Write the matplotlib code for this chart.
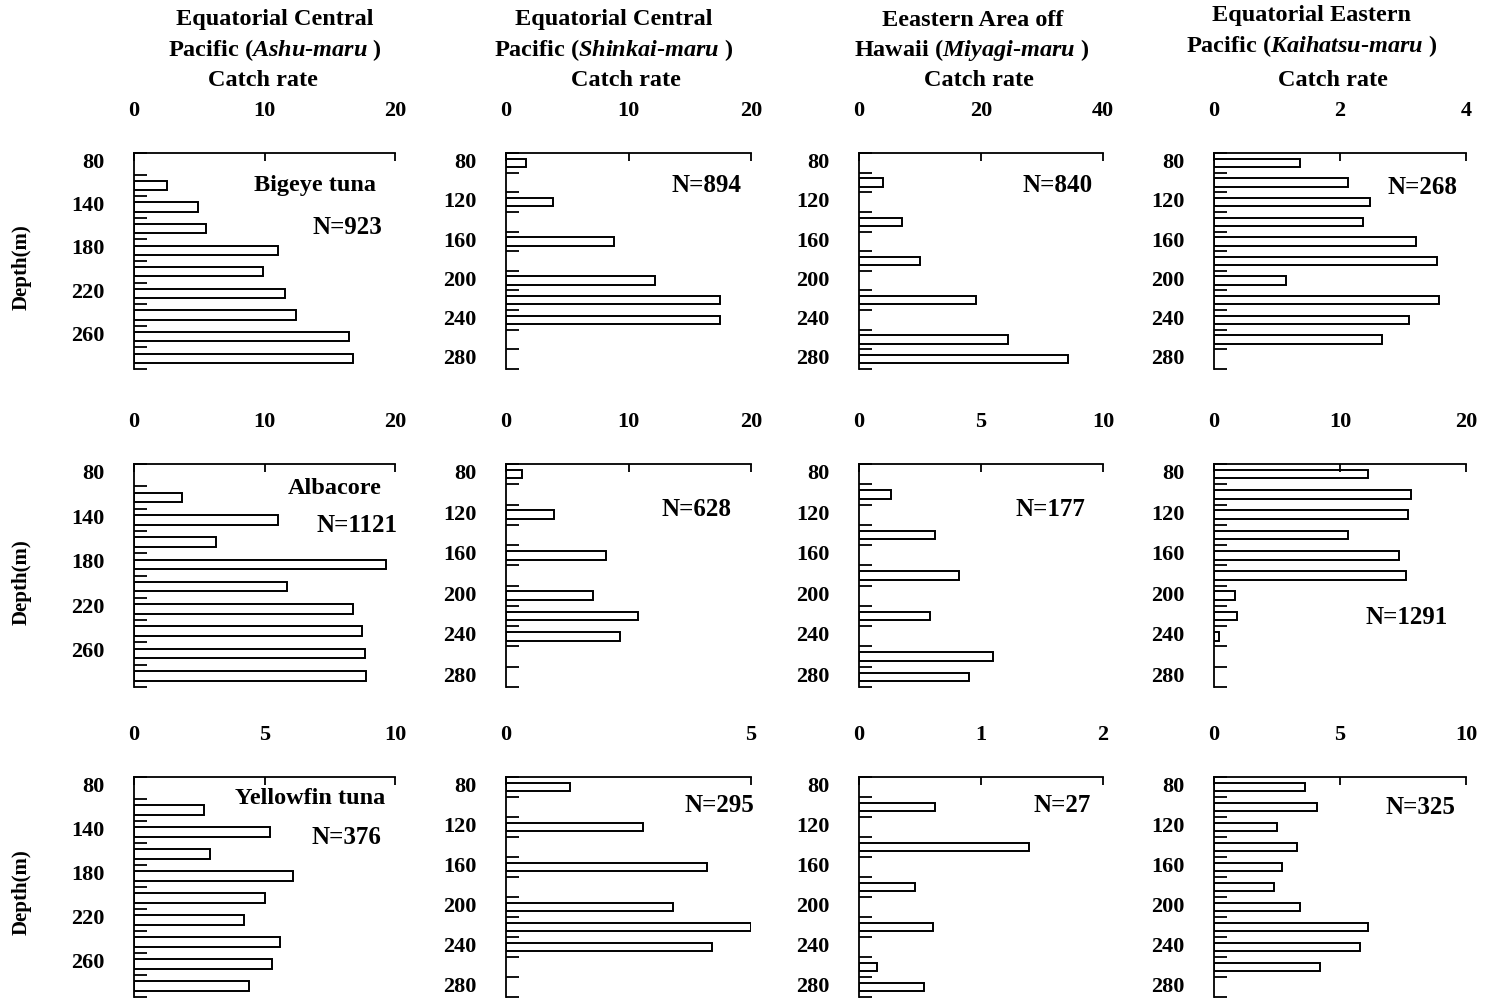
import matplotlib
matplotlib.use("Agg")
import matplotlib.pyplot as plt
from matplotlib.ticker import MultipleLocator

plt.rcParams.update({
    "font.family": "Liberation Serif",
    "font.weight": "bold",
    "mathtext.fontset": "custom",
    "mathtext.rm": "Liberation Serif:bold",
    "mathtext.it": "Liberation Serif:italic:bold",
})

# ==== Data: catch rate by hook depth (bin top, m) ====
col_titles = [
    ["Equatorial Central", r"Pacific ($\mathit{Ashu}$-$\mathit{maru}$ )", "Catch rate"],
    ["Equatorial Central", r"Pacific ($\mathit{Shinkai}$-$\mathit{maru}$ )", "Catch rate"],
    ["Eeastern Area off", r"Hawaii ($\mathit{Miyagi}$-$\mathit{maru}$ )", "Catch rate"],
    ["Equatorial Eastern", r"Pacific ($\mathit{Kaihatsu}$-$\mathit{maru}$ )", "Catch rate"],
]
species = ["Bigeye tuna", "Albacore", "Yellowfin tuna"]

depth_ashu = [120, 140, 160, 180, 200, 220, 240, 260, 280]
depth_shinkai = [80, 120, 160, 200, 220, 240]
depth_miyagi = [100, 140, 180, 220, 260, 280]
depth_kaihatsu_bet = [80, 100, 120, 140, 160, 180, 200, 220, 240, 260]
depth_kaihatsu_alb = [80, 100, 120, 140, 160, 180, 200, 220, 240]
depth_kaihatsu_yft = [80, 100, 120, 140, 160, 180, 200, 220, 240, 260]

# bigeye tuna
bet_ashu = [2.5, 4.9, 5.5, 11.0, 9.9, 11.6, 12.4, 16.5, 16.8]
bet_shinkai = [1.6, 3.8, 8.8, 12.2, 17.5, 17.5]
bet_miyagi = [3.9, 7.0, 10.0, 19.1, 24.4, 34.2]
bet_kaihatsu = [1.37, 2.12, 2.48, 2.37, 3.21, 3.54, 1.15, 3.57, 3.10, 2.67]
# albacore
alb_ashu = [3.7, 11.0, 6.3, 19.3, 11.7, 16.8, 17.5, 17.7, 17.8]
alb_shinkai = [1.3, 3.9, 8.2, 7.1, 10.8, 9.3]
alb_miyagi = [1.3, 3.1, 4.1, 2.9, 5.5, 4.5]
alb_kaihatsu = [12.2, 15.6, 15.4, 10.6, 14.7, 15.2, 1.7, 1.8, 0.4]
# yellowfin tuna
yft_ashu = [2.7, 5.2, 2.9, 6.1, 5.0, 4.2, 5.6, 5.3, 4.4]
yft_shinkai = [1.3, 2.8, 4.1, 3.4, 5.0, 4.2]
yft_miyagi = [0.62, 1.39, 0.46, 0.61, 0.15, 0.53]
yft_kaihatsu = [3.6, 4.1, 2.5, 3.3, 2.7, 2.4, 3.4, 6.1, 5.8, 4.2]

sample_n = [
    ["N=923", "N=894", "N=840", "N=268"],
    ["N=1121", "N=628", "N=177", "N=1291"],
    ["N=376", "N=295", "N=27", "N=325"],
]

x_ticks = [
    [[0, 10, 20], [0, 10, 20], [0, 20, 40], [0, 2, 4]],
    [[0, 10, 20], [0, 10, 20], [0, 5, 10], [0, 10, 20]],
    [[0, 5, 10], [0, 5], [0, 1, 2], [0, 5, 10]],
]

depth_ticks_ashu = [100, 140, 180, 220, 260]
depth_labels_ashu = ["80", "140", "180", "220", "260"]
depth_ticks = [80, 120, 160, 200, 240, 280]

panels = [
    [(depth_ashu, bet_ashu), (depth_shinkai, bet_shinkai),
     (depth_miyagi, bet_miyagi), (depth_kaihatsu_bet, bet_kaihatsu)],
    [(depth_ashu, alb_ashu), (depth_shinkai, alb_shinkai),
     (depth_miyagi, alb_miyagi), (depth_kaihatsu_alb, alb_kaihatsu)],
    [(depth_ashu, yft_ashu), (depth_shinkai, yft_shinkai),
     (depth_miyagi, yft_miyagi), (depth_kaihatsu_yft, yft_kaihatsu)],
]

# ==== Layout (pixels on a 1485 x 1002 canvas) ====
W, H = 1485, 1002
cols_x = [(134, 395), (506, 751), (859, 1103), (1214, 1466)]
rows_y = [(153, 369), (464, 687), (777, 997)]
title_x = [(275, 275, 263), (614, 614, 626), (973, 972, 979), (1312, 1312, 1333)]
title_y = [(20, 50, 80), (20, 50, 80), (20, 50, 80), (16, 46, 80)]
n_pos = [
    [(347, 228), (706, 186), (1058, 186), (1422, 188)],
    [(357, 526), (697, 510), (1050, 510), (1407, 618)],
    [(346, 837), (719, 805), (1062, 806), (1420, 807)],
]
species_pos = [(315, 185), (335, 488), (310, 799)]
ylabel_y = [267, 582, 892]

fig = plt.figure(figsize=(W / 100, H / 100), dpi=100)


def fig_xy(px, py):
    return px / W, 1 - py / H


bin_w = 20
bar_h = 8.6

for r in range(3):
    for c in range(4):
        x0, x1 = cols_x[c]
        y0, y1 = rows_y[r]
        ax = fig.add_axes([x0 / W, 1 - y1 / H, (x1 - x0) / W, (y1 - y0) / H])
        depths, vals = panels[r][c]
        centers = [d + bin_w / 2 for d in depths]
        ax.barh(centers, vals, height=bar_h, color="white",
                edgecolor="black", linewidth=1.4)

        ticks = x_ticks[r][c]
        ax.set_xlim(0, ticks[-1])
        ax.set_xticks(ticks)
        ax.set_xticklabels([str(t) for t in ticks])

        if c == 0:
            ax.set_ylim(300, 100)
            ax.set_yticks(depth_ticks_ashu)
            ax.set_yticklabels(depth_labels_ashu)
        else:
            ax.set_ylim(300, 80)
            ax.set_yticks(depth_ticks)
            ax.set_yticklabels([str(t) for t in depth_ticks])
        ax.yaxis.set_minor_locator(MultipleLocator(20))

        for side in ("right", "bottom"):
            ax.spines[side].set_visible(False)
        for side in ("top", "left"):
            ax.spines[side].set_linewidth(1.3)

        ax.tick_params(axis="x", which="both", direction="in", top=True,
                       bottom=False, labeltop=True, labelbottom=False,
                       length=6, width=1.3, pad=23, labelsize=16)
        ax.tick_params(axis="y", which="both", direction="in", length=9,
                       width=1.3, pad=21, labelsize=16)
        for lab in ax.get_yticklabels():
            lab.set_verticalalignment("top")

        tx, ty = fig_xy(*n_pos[r][c])
        fig.text(tx, ty, sample_n[r][c], ha="center", va="center", fontsize=18)

    sx, sy = fig_xy(*species_pos[r])
    fig.text(sx, sy, species[r], ha="center", va="center", fontsize=17.5)
    lx, ly = fig_xy(22, ylabel_y[r])
    fig.text(lx, ly, "Depth(m)", ha="center", va="center", rotation=90,
             fontsize=15)

for c in range(4):
    for i in range(3):
        tx, ty = fig_xy(title_x[c][i], title_y[c][i])
        fig.text(tx, ty, col_titles[c][i], ha="center", va="center", fontsize=17.5)

fig.savefig("out.png", dpi=100)
